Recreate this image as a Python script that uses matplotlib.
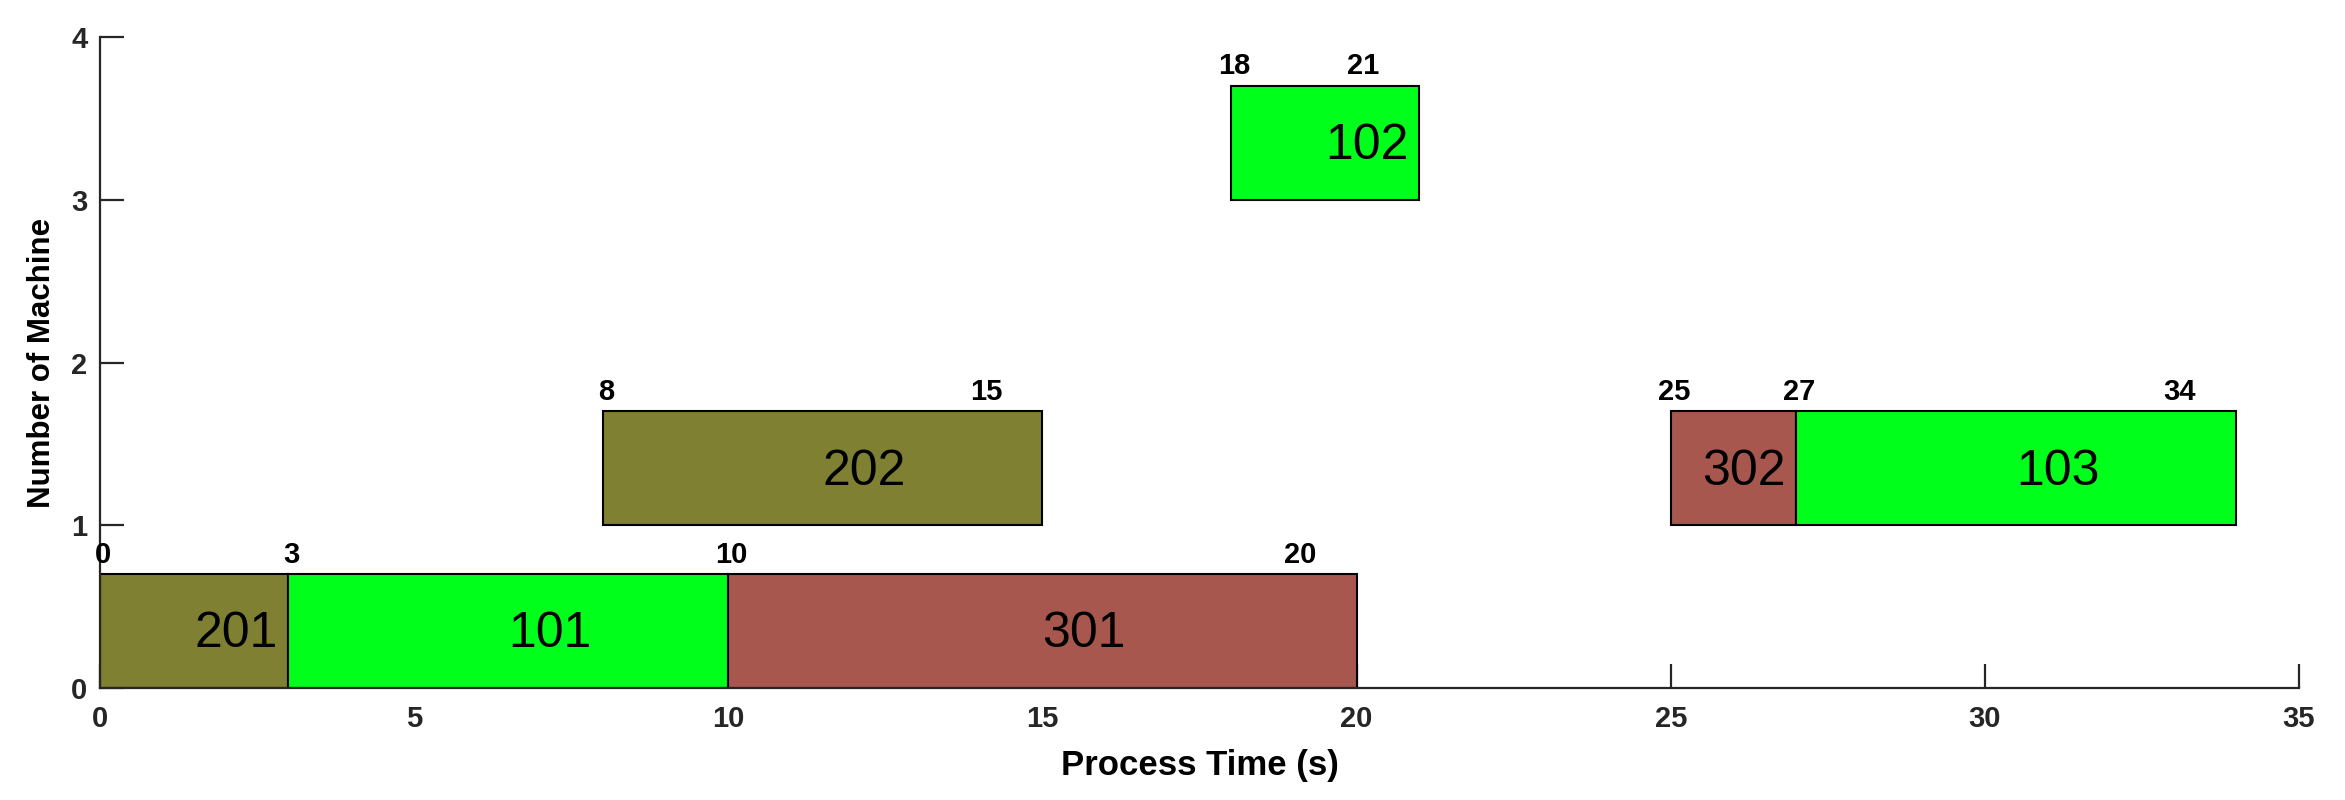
import matplotlib
matplotlib.use("Agg")
import matplotlib.pyplot as plt
from matplotlib.patches import Rectangle

# ---- data ----
job_ids = ["201", "101", "301", "202", "302", "103", "102"]
machines = [0, 0, 0, 1, 1, 1, 3]
starts = [0, 3, 10, 8, 25, 27, 18]
ends = [3, 10, 20, 15, 27, 34, 21]
job_type = [2, 1, 3, 2, 3, 1, 1]

x_ticks = [0, 5, 10, 15, 20, 25, 30, 35]
y_ticks = [0, 1, 2, 3, 4]

type_colors = {1: "#00FF1A", 2: "#808033", 3: "#A8574F"}
bar_h = 0.7

plt.rcParams['font.family'] = ['Liberation Sans', 'DejaVu Sans']

fig = plt.figure(figsize=(23.45, 8), dpi=100)
ax = fig.add_axes([100/2345, 1-688/800, (2299-100)/2345, (688-37)/800])

start_set = set(zip(machines, starts))
for jid, m, s, e, t in zip(job_ids, machines, starts, ends, job_type):
    ax.add_patch(Rectangle((s, m), e - s, bar_h, facecolor=type_colors[t],
                           edgecolor="black", linewidth=1.5, zorder=2))
    cx = (s + e) / 2
    lx = min(cx, e - 1.5)
    ax.text(lx, m + bar_h / 2 - 0.02, jid, ha="left", va="center",
            fontsize=36, color="black", zorder=3)
    ax.text(s + 0.05, m + 0.82, str(s), ha="center", va="center",
            fontsize=21, fontweight="bold", color="black", zorder=3)
    if (m, e) not in start_set:
        ax.text(e - 0.9, m + 0.82, str(e), ha="center", va="center",
                fontsize=21, fontweight="bold", color="black", zorder=3)

ax.set_xlim(0, 35)
ax.set_ylim(0, 4)
ax.set_xticks(x_ticks)
ax.set_yticks(y_ticks)
ax.spines['top'].set_visible(False)
ax.spines['right'].set_visible(False)
for sp in ['left', 'bottom']:
    ax.spines[sp].set_linewidth(1.6)
    ax.spines[sp].set_color('#262626')
ax.tick_params(axis='both', direction='in', length=17, width=1.6,
               color='#262626', labelcolor='#262626', labelsize=21)
for lbl in ax.get_xticklabels() + ax.get_yticklabels():
    lbl.set_fontweight("bold")
ax.tick_params(axis='x', pad=12)
ax.tick_params(axis='y', pad=9)

ax.set_xlabel("Process Time (s)", fontsize=25, fontweight="bold",
              color="black", labelpad=12)
ax.set_ylabel("Number of Machine", fontsize=22.5, fontweight="bold",
              color="black", labelpad=10)

fig.savefig("out.png", dpi=100)
